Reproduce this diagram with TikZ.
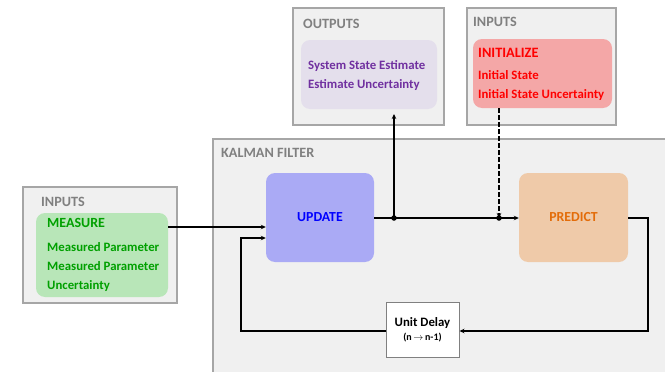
\documentclass[tikz,border=0pt]{standalone}
\usepackage{fontspec}
\setmainfont{Carlito}
\usetikzlibrary{arrows.meta}
\definecolor{panelfill}{HTML}{F0F0F0}
\definecolor{paneledge}{HTML}{A6A6A6}
\definecolor{headgray}{HTML}{808080}
\definecolor{outfill}{HTML}{E4DFEC}
\definecolor{outtext}{HTML}{7030A0}
\definecolor{initfill}{HTML}{F4A7A7}
\definecolor{inittext}{HTML}{FF0000}
\definecolor{measfill}{HTML}{B8E6B8}
\definecolor{meastext}{HTML}{00A000}
\definecolor{updfill}{HTML}{AAAAF5}
\definecolor{updtext}{HTML}{0000FF}
\definecolor{predfill}{HTML}{EFCAA9}
\definecolor{predtext}{HTML}{E36C09}
\tikzset{
  panel/.style={draw=paneledge, fill=panelfill, line width=1.5pt, rectangle, inner sep=0pt},
  block/.style={rectangle, rounded corners=9pt, draw=none, inner sep=0pt},
  head/.style={anchor=west, inner sep=0pt, text=headgray, font=\fontsize{14.2}{16}\selectfont\bfseries},
  body/.style={anchor=west, inner sep=0pt, align=left, font=\fontsize{12.8}{19}\selectfont\bfseries},
  wire/.style={draw=black, line width=1.6pt},
  arr/.style={wire, -{Stealth[length=5pt,width=4.5pt]}},
  jdot/.style={circle, fill=black, inner sep=0pt, minimum size=5.5pt},
}
\begin{document}
\begin{tikzpicture}[x=1pt, y=-1pt]
\useasboundingbox (0,0) rectangle (665,372);
\fill[white] (0,0) rectangle (665,372);

% panels
\node[panel, minimum width=151pt, minimum height=117pt] (outputs) at (368.5,66.5) {};
\node[panel, minimum width=149pt, minimum height=117pt] (inputsR) at (541.5,66.5) {};
\node[panel, minimum width=154pt, minimum height=116pt] (inputsL) at (100,245) {};
\draw[panel] (213,139) rectangle (672,380);
\node[head] (hOut) at (303,24) {OUTPUTS};
\node[head] (hInR) at (473,22) {INPUTS};
\node[head] (hInL) at (41,202) {INPUTS};
\node[head] (hKF) at (221,153) {KALMAN FILTER};

% outputs block
\node[block, fill=outfill, minimum width=136pt, minimum height=69pt] (outBox) at (369,74.5) {};
\node[body, text=outtext] (outTxt) at (308,75.5) {System State Estimate\\Estimate Uncertainty};

% initialize block
\node[block, fill=initfill, minimum width=139pt, minimum height=69pt] (initBox) at (542.5,73.5) {};
\node[body, text=inittext, font=\fontsize{14.3}{17}\selectfont\bfseries] (initHead) at (478,53) {INITIALIZE};
\node[body, text=inittext] (initTxt) at (478,85.5) {Initial State\\Initial State Uncertainty};

% measure block
\node[block, fill=measfill, minimum width=132pt, minimum height=84pt] (measBox) at (102,255) {};
\node[body, text=meastext, font=\fontsize{14}{16}\selectfont\bfseries] (measHead) at (47,223) {MEASURE};
\node[body, text=meastext] (measTxt) at (47,267) {Measured Parameter\\Measured Parameter\\Uncertainty};

% filter blocks
\node[block, fill=updfill, minimum width=108pt, minimum height=89pt, text=updtext,
      font=\fontsize{13.8}{16}\selectfont\bfseries] (update) at (320,217.5) {UPDATE};
\node[block, fill=predfill, minimum width=109pt, minimum height=89pt, text=predtext,
      font=\fontsize{13.8}{16}\selectfont\bfseries] (predict) at (573.5,217.5) {PREDICT};
\node[draw=headgray, fill=white, line width=1pt, minimum width=73pt, minimum height=55pt,
      inner sep=0pt, align=center] (delay) at (422.5,329.5)
      {{\fontsize{12.8}{14}\selectfont\bfseries Unit Delay}\\[2pt]
       {\fontsize{10}{12}\selectfont\bfseries (n\,$\rightarrow$\,n-1)}};

% junctions
\coordinate (j1) at (394,218);
\coordinate (j2) at (499,218);
\coordinate (outTip) at (394,114);
\coordinate (fbR) at (648,331);
\coordinate (fbL) at (241,331);

% connectors
\draw[arr] (measBox.east |- 0,227) -- (update.west |- 0,227);
\draw[arr] (update.east |- j1) -- (predict.west |- j2);
\draw[arr] (j1) -- (outTip);
\draw[arr, dash pattern=on 4.5pt off 2.5pt] (initBox.south -| j2) -- (j2);
\draw[arr] (predict.east |- j1) -| (fbR) -- (delay.east |- fbR);
\draw[arr] (delay.west |- fbL) -- (fbL) |- (update.west |- 0,238);
\node[jdot] (d1) at (j1) {};
\node[jdot] (d2) at (j2) {};
\end{tikzpicture}
\end{document}
